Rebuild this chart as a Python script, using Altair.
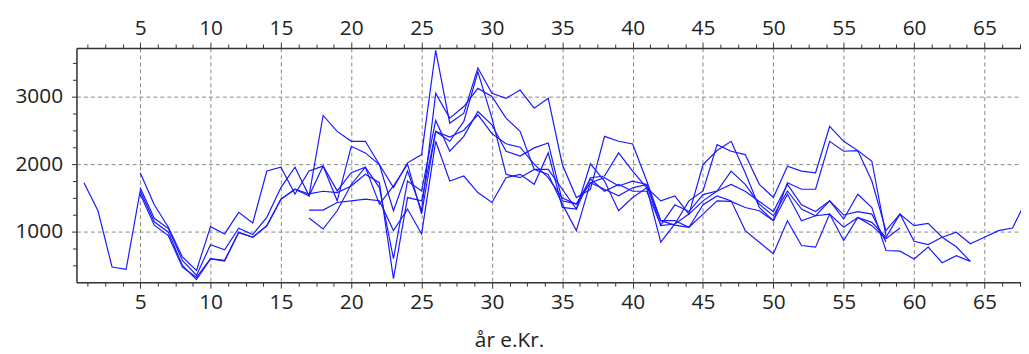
import altair as alt
import pandas as pd

# ---- data ----
series_names = ["s1", "s2", "s3", "s4", "s5", "s6"]
series_start = [1, 5, 5, 5, 17, 17]

s1 = [1726, 1312, 482, 448, 1605, 1150, 995, 505, 297, 600, 570, 990, 922, 1090, 1480, 1629,
      1532, 2718, 2483, 2337, 2337, 1995, 1653, 2019, 2142, 3679, 2605, 2752, 3420, 3045, 2971,
      3093, 2825, 2971, 1995, 1507, 1629, 2410, 2337, 2298, 1751, 1166, 1166, 1068, 1400, 1531,
      1458, 1019, 848, 677, 1165, 799, 775, 1263, 873, 1214, 1141, 921, 1263, 862, 814, 921,
      995, 824, 921, 1019, 1058, 1480]
s2 = [1873, 1400, 1070, 630, 433, 1078, 970, 1288, 1132, 1898, 1956, 1560, 1898, 1971, 1605,
      1873, 1956, 1654, 604, 1752, 1605, 2644, 2191, 2410, 2776, 2581, 2191, 2118, 2240, 2312,
      1458, 1410, 1727, 1629, 1532, 1650, 1700, 1093, 1117, 1263, 1458, 1604, 1897, 1702, 1409,
      1239, 1604, 1336, 1239, 1458, 1190, 1556, 1360, 726, 716, 600, 775, 546, 649, 565]
s3 = [1653, 1200, 1050, 580, 360, 810, 736, 1054, 961, 1215, 1654, 1956, 1532, 1971, 1459,
      2264, 2166, 1995, 1312, 1898, 1312, 3044, 2679, 2850, 3118, 3000, 2679, 2483, 1922, 1922,
      1629, 1337, 1800, 1825, 2166, 1898, 1650, 849, 1117, 1458, 1605, 2288, 2190, 2141, 1702,
      1507, 1970, 1897, 1873, 2556, 2336, 2200, 1751, 1019, 1264, 1092, 1126, 921, 780, 565]
s4 = [1560, 1100, 945, 480, 330, 605, 580, 995, 920, 1093, 1483, 1629, 1560, 1600, 1580,
      1678, 1850, 1727, 311, 1507, 1459, 2483, 2337, 2630, 3362, 2679, 1849, 1800, 1922, 1849,
      1410, 1019, 1727, 1800, 1678, 1750, 1700, 1166, 1100, 1068, 1263, 1458, 1450, 1360, 1312,
      1165, 1556, 1165, 1239, 1263, 1068, 1214, 1092, 900, 1058]
s5 = [1322, 1322, 1434, 1458, 1483, 1460, 1019, 1337, 970, 2337, 1752, 1825, 1581, 1434, 1800,
      1850, 1703, 2166, 1361, 1337, 2005, 1750, 1312, 1507, 1650, 1458, 1532, 1263, 1995, 2200,
      2337, 1873, 1360, 1165, 1726, 1629, 1629, 2336, 2190, 2200, 2043, 950]
s6 = [1205, 1043, 1312, 1700, 1956, 1410, 1678, 2000, 1264, 2483, 2400, 2500, 2728, 2450, 2300,
      2250, 2000, 1800, 1500, 1410, 1780, 1600, 1700, 1600, 1600, 1100, 1400, 1300, 1550, 1604,
      1700, 1600, 1450, 1300, 1700, 1400, 1300, 1458, 1250, 1300, 1263, 850]

x_tick_values = [1.25 * k for k in range(1, 55)]
y_tick_values = [500 + 250 * k for k in range(13)]
x_domain = [0.47, 67.6]
y_domain = [258, 3713]

rows = []
for name, start, vals in zip(series_names, series_start, [s1, s2, s3, s4, s5, s6]):
    for i, v in enumerate(vals):
        rows.append({"series": name, "year": start + i, "value": v})
df = pd.DataFrame(rows)

FONT = "Open Sans"
AX = "#333333"

xscale = alt.Scale(domain=x_domain, nice=False, zero=False)
yscale = alt.Scale(domain=y_domain, nice=False, zero=False)

bottom_axis = alt.Axis(
    orient="bottom", values=x_tick_values,
    labelExpr="datum.value % 5 === 0 ? '' + datum.value : ''",
    labelOverlap=False, labelFont=FONT, labelFontSize=21, labelColor="#222222",
    labelPadding=4,
    tickSize={"condition": {"test": "datum.value % 5 === 0", "value": 6}, "value": 4},
    tickColor=AX, domainColor=AX, domainWidth=1.5,
    grid=True, gridColor="#888888", gridDash=[4, 3],
    gridOpacity={"condition": {"test": "datum.value % 5 === 0", "value": 1}, "value": 0},
    title="år e.Kr.", titleFont=FONT, titleFontSize=21, titleFontWeight="normal",
    titleColor="#222222", titlePadding=17, titleX=436, titleAnchor="start", titleAlign="center",
)
top_axis = alt.Axis(
    orient="top", values=x_tick_values,
    labelExpr="datum.value % 5 === 0 ? '' + datum.value : ''",
    labelOverlap=False, labelFont=FONT, labelFontSize=21, labelColor="#222222",
    labelPadding=4,
    tickSize={"condition": {"test": "datum.value % 5 === 0", "value": 6}, "value": 4},
    tickColor=AX, domainColor=AX, domainWidth=1.5, grid=False, title=None,
)
left_axis = alt.Axis(
    orient="left", values=y_tick_values,
    labelExpr="datum.value % 1000 === 0 ? '' + datum.value : ''",
    labelOverlap=False, labelFont=FONT, labelFontSize=21, labelColor="#222222",
    labelPadding=9,
    tickSize={"condition": {"test": "datum.value % 1000 === 0", "value": 5}, "value": 4},
    tickColor=AX, domainColor=AX, domainWidth=1.5,
    grid=True, gridColor="#888888", gridDash=[4, 3],
    gridOpacity={"condition": {"test": "datum.value % 1000 === 0", "value": 1}, "value": 0},
    title=None,
)

lines = alt.Chart(df).mark_line(color="#1a1aff", strokeWidth=1.2, clip=True).encode(
    x=alt.X("year:Q", scale=xscale, axis=bottom_axis),
    y=alt.Y("value:Q", scale=yscale, axis=left_axis),
    detail="series:N",
)
top = alt.Chart(df).mark_point(opacity=0, clip=True).encode(
    x=alt.X("year:Q", scale=xscale, axis=top_axis),
)

chart = alt.layer(lines, top).resolve_axis(x="independent").properties(
    width=952, height=236,
    padding={"left": 6, "top": 8, "right": 0, "bottom": 0},
).configure_view(stroke=None).configure(background="white")

chart.save("out.html", embed_options={"renderer": "svg", "actions": False})
